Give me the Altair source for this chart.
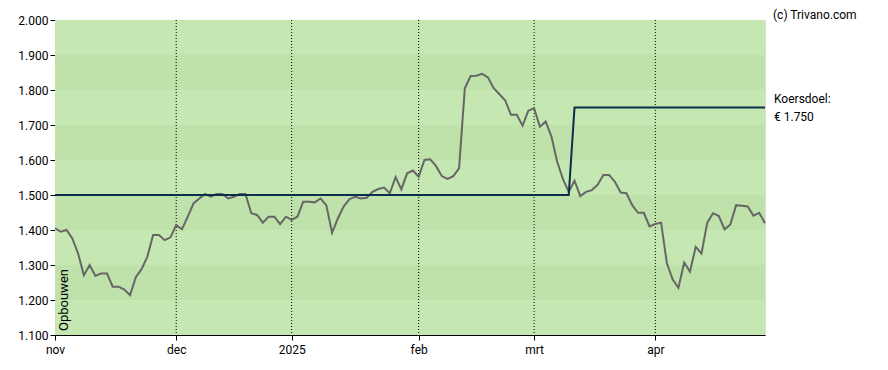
import altair as alt
import pandas as pd

# trading-day index of each month label
month_idx = [0, 21, 41, 63, 83, 104]
month_lbl = ["nov", "dec", "2025", "feb", "mrt", "apr"]

price = [1.405, 1.395, 1.400, 1.376, 1.333, 1.271, 1.300, 1.269, 1.276, 1.276,
         1.238, 1.238, 1.230, 1.214, 1.265, 1.288, 1.324, 1.386, 1.386, 1.371,
         1.379, 1.414, 1.402, 1.438, 1.476, 1.490, 1.503, 1.495, 1.503, 1.503,
         1.490, 1.495, 1.503, 1.503, 1.448, 1.443, 1.421, 1.438, 1.438, 1.417,
         1.438, 1.429, 1.438, 1.481, 1.481, 1.479, 1.490, 1.471, 1.392, 1.433,
         1.467, 1.488, 1.495, 1.490, 1.492, 1.509, 1.517, 1.521, 1.505, 1.551,
         1.516, 1.562, 1.570, 1.552, 1.600, 1.602, 1.583, 1.554, 1.546, 1.554,
         1.576, 1.805, 1.840, 1.841, 1.846, 1.836, 1.805, 1.788, 1.770, 1.729,
         1.729, 1.698, 1.741, 1.748, 1.695, 1.710, 1.667, 1.595, 1.545, 1.509,
         1.541, 1.497, 1.509, 1.514, 1.529, 1.557, 1.557, 1.538, 1.507, 1.505,
         1.471, 1.449, 1.449, 1.410, 1.417, 1.421, 1.305, 1.259, 1.235, 1.307,
         1.281, 1.352, 1.333, 1.421, 1.448, 1.440, 1.402, 1.416, 1.471, 1.469,
         1.467, 1.441, 1.449, 1.419]

target_idx = [0, 89, 90, 123]
target_val = [1.5, 1.5, 1.75, 1.75]

band_lo = [1.1, 1.2, 1.3, 1.4, 1.5, 1.6, 1.7, 1.8, 1.9]
band_hi = [1.2, 1.3, 1.4, 1.5, 1.6, 1.7, 1.8, 1.9, 2.0]
band_shade = ["a", "b", "a", "b", "a", "b", "a", "b", "a"]

y_ticks = [1.1, 1.2, 1.3, 1.4, 1.5, 1.6, 1.7, 1.8, 1.9, 2.0]

W, H = 710, 315
FONT = "Roboto"

df_price = pd.DataFrame({"i": list(range(len(price))), "v": price})
df_target = pd.DataFrame({"i": target_idx, "v": target_val})
df_band = pd.DataFrame({"lo": band_lo, "hi": band_hi, "s": band_shade})
df_grid = pd.DataFrame({"i": month_idx[1:]})

label_map = "{" + ",".join(f"'{i}':'{l}'" for i, l in zip(month_idx, month_lbl)) + "}"

xscale = alt.Scale(domain=[0, len(price) - 1], nice=False, zero=False)
yscale = alt.Scale(domain=[1.1, 2.0], nice=False, zero=False)

xaxis = alt.Axis(values=month_idx, labelExpr=f"{label_map}[datum.value]", grid=False,
                 title=None, labelFont=FONT, labelFontSize=12, labelColor="#000",
                 tickColor="#000", domainColor="#000", tickSize=5, labelPadding=4,
                 labelFlush=False)
yaxis = alt.Axis(values=y_ticks, format=".3f", grid=False, title=None,
                 labelFont=FONT, labelFontSize=12, labelColor="#000",
                 tickColor="#000", domainColor="#000", tickSize=5, labelPadding=2)

bands = alt.Chart(df_band).mark_rect().encode(
    x=alt.value(0), x2=alt.value(W),
    y=alt.Y("lo:Q", scale=yscale, axis=yaxis),
    y2="hi:Q",
    color=alt.Color("s:N", scale=alt.Scale(domain=["a", "b"], range=["#c5e8b3", "#bfe1aa"]),
                    legend=None),
)

grid = alt.Chart(df_grid).mark_rule(color="#000", strokeDash=[1, 2], strokeWidth=1).encode(
    x=alt.X("i:Q", scale=xscale, axis=xaxis),
)

line_price = alt.Chart(df_price).mark_line(color="#666666", strokeWidth=2).encode(
    x=alt.X("i:Q", scale=xscale, axis=xaxis),
    y=alt.Y("v:Q", scale=yscale, axis=yaxis),
)

line_target = alt.Chart(df_target).mark_line(color="#0a2e4c", strokeWidth=2).encode(
    x=alt.X("i:Q", scale=xscale, axis=xaxis),
    y=alt.Y("v:Q", scale=yscale, axis=yaxis),
)

txt_df = pd.DataFrame({"t": ["x"]})
opb = alt.Chart(txt_df).mark_text(text="Opbouwen", angle=270, align="left", baseline="middle",
                                  font=FONT, fontSize=13, color="#000").encode(
    x=alt.value(9), y=alt.value(311))
copy = alt.Chart(txt_df).mark_text(text="(c) Trivano.com", align="left", baseline="top",
                                   font=FONT, fontSize=12, color="#000").encode(
    x=alt.value(718), y=alt.value(-10))
k1 = alt.Chart(txt_df).mark_text(text="Koersdoel:", align="left", baseline="middle",
                                 font=FONT, fontSize=12, color="#000").encode(
    x=alt.value(719), y=alt.value(78.5))
k2 = alt.Chart(txt_df).mark_text(text="€ 1.750", align="left", baseline="middle",
                                 font=FONT, fontSize=12, color="#000").encode(
    x=alt.value(719), y=alt.value(96.5))

chart = alt.layer(bands, grid, line_price, line_target, opb, copy, k1, k2).properties(
    width=W, height=H,
    autosize=alt.AutoSizeParams(type="none"),
    padding={"left": 47, "top": 12, "right": 115, "bottom": 25},
).configure_view(stroke="#000", strokeWidth=1).configure(background="white")

chart.save("out.html", embed_options={"renderer": "svg", "actions": False})
